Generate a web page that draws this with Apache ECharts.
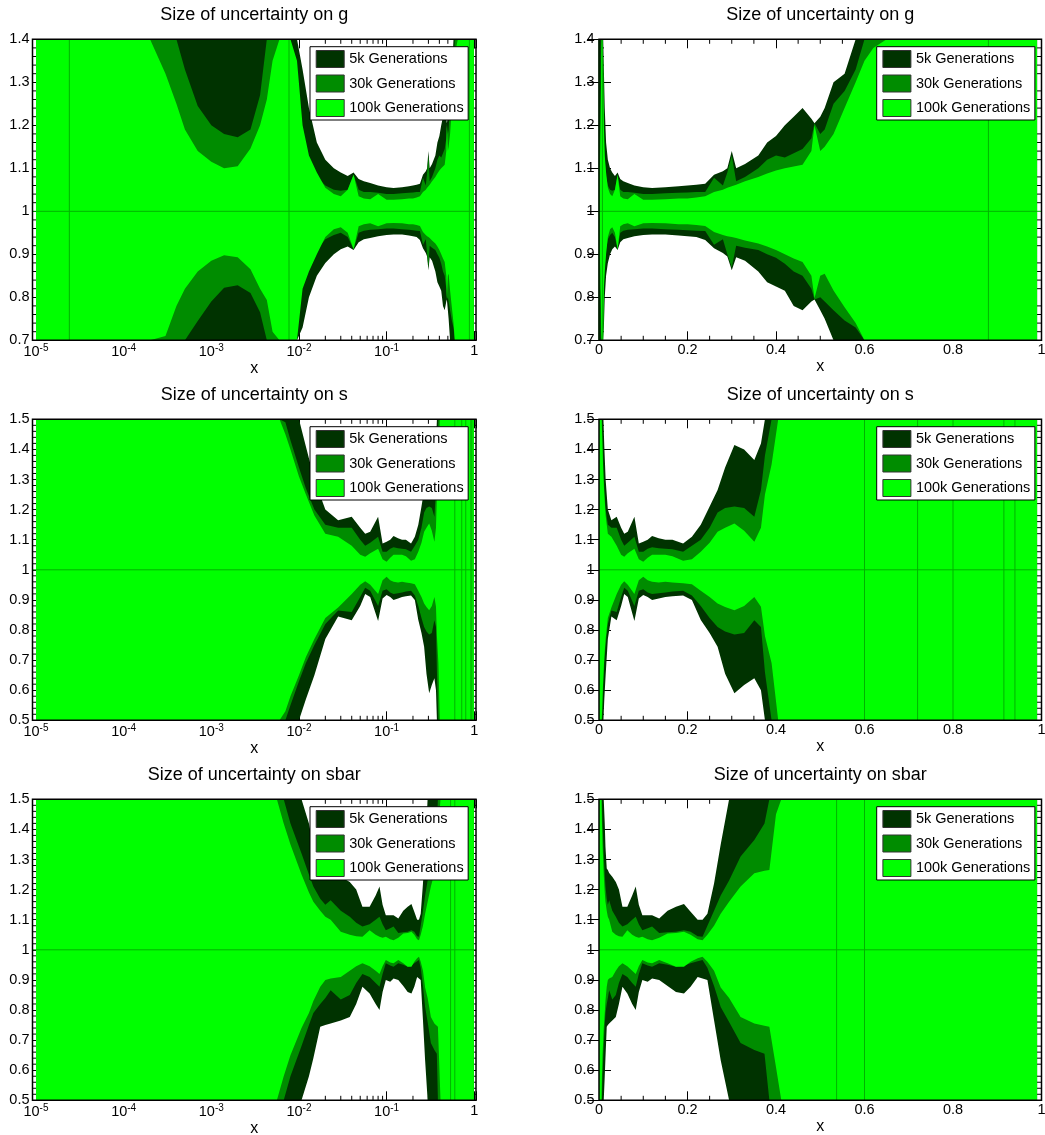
<!DOCTYPE html>
<html><head><meta charset="utf-8">
<script src="https://cdn.jsdelivr.net/npm/echarts@6/dist/echarts.min.js"></script>
<style>html,body{margin:0;padding:0;background:#fff}#c{width:1045px;height:1135px}</style>
</head><body><div id="c"></div>
<script>
// ---------------- data ----------------
const bandNames = ['5k Generations', '30k Generations', '100k Generations'];
const panelTitles = ['Size of uncertainty on g', 'Size of uncertainty on s', 'Size of uncertainty on sbar'];
const yMinByRow = [0.7, 0.5, 0.5];
const yMaxByRow = [1.4, 1.5, 1.5];
const ratioRef = 1;

// g
const gX      = [1e-5,3e-5,1e-4,2e-4,3e-4,4e-4,5e-4,7e-4,1e-3,1.4e-3,2e-3,2.8e-3,3.6e-3,4.3e-3,5e-3,6e-3,8e-3,0.0095,0.011,0.013,0.016,0.02,0.025,0.03,0.036,0.042,0.048,0.055,0.065,0.08,0.1,0.12,0.15,0.18,0.2,0.22,0.24,0.26,0.28,0.29,0.3,0.31,0.33,0.36,0.38,0.4,0.42,0.44,0.46,0.48,0.487,0.5,0.51,0.53,0.555,0.58,0.6,0.62,0.65,0.7,0.8,0.9,0.99];
const g5kHi   = [2.5,2.5,2.4,2.3,2.2,2.1,2.0,1.9,1.85,1.8,1.8,1.85,1.9,2.0,2.0,2.0,1.8,1.5,1.33,1.24,1.16,1.12,1.10,1.09,1.082,1.09,1.075,1.07,1.066,1.06,1.056,1.054,1.056,1.058,1.06,1.062,1.064,1.085,1.093,1.1,1.14,1.1,1.11,1.13,1.16,1.175,1.20,1.22,1.24,1.215,1.205,1.22,1.24,1.30,1.32,1.42,1.5,1.6,1.7,1.9,2.2,2.4,2.6];
const g5kLo   = [0.0,0.0,0.05,0.1,0.15,0.2,0.25,0.3,0.35,0.4,0.4,0.35,0.3,0.3,0.3,0.35,0.45,0.62,0.73,0.8,0.85,0.88,0.90,0.912,0.918,0.91,0.928,0.935,0.938,0.942,0.945,0.946,0.946,0.944,0.942,0.94,0.933,0.914,0.903,0.895,0.863,0.893,0.885,0.86,0.835,0.825,0.815,0.78,0.77,0.79,0.795,0.77,0.75,0.70,0.64,0.55,0.5,0.45,0.4,0.35,0.3,0.25,0.2];
const g30kHi  = [2.2,2.1,1.9,1.6,1.5,1.41,1.33,1.245,1.2,1.18,1.172,1.19,1.27,1.4,1.55,1.55,1.35,1.25,1.17,1.12,1.08,1.06,1.05,1.048,1.05,1.085,1.05,1.045,1.045,1.043,1.04,1.04,1.042,1.043,1.044,1.045,1.045,1.078,1.06,1.09,1.13,1.07,1.08,1.10,1.12,1.13,1.125,1.135,1.145,1.17,1.205,1.18,1.19,1.25,1.28,1.33,1.4,1.5,1.6,1.7,1.9,2.1,2.3];
const g30kLo  = [0.1,0.15,0.3,0.45,0.55,0.62,0.69,0.745,0.79,0.822,0.828,0.81,0.765,0.69,0.6,0.6,0.72,0.78,0.83,0.87,0.91,0.935,0.945,0.95,0.94,0.912,0.95,0.955,0.957,0.958,0.96,0.96,0.958,0.957,0.956,0.955,0.954,0.922,0.935,0.9,0.87,0.92,0.915,0.91,0.9,0.892,0.878,0.86,0.85,0.82,0.795,0.8,0.79,0.77,0.746,0.73,0.66,0.62,0.55,0.5,0.4,0.35,0.3];
const g100kHi = [2.2,2.0,1.7,1.44,1.32,1.25,1.19,1.14,1.115,1.10,1.105,1.146,1.20,1.26,1.35,1.6,1.5,1.35,1.2,1.13,1.09,1.055,1.04,1.035,1.05,1.085,1.035,1.03,1.028,1.04,1.027,1.027,1.028,1.03,1.03,1.032,1.035,1.045,1.05,1.055,1.058,1.062,1.07,1.08,1.088,1.095,1.1,1.104,1.108,1.14,1.2,1.14,1.15,1.18,1.24,1.3,1.35,1.38,1.42,1.55,1.8,2.0,2.2];
const g100kLo = [0.2,0.3,0.45,0.6,0.71,0.78,0.82,0.86,0.885,0.898,0.893,0.865,0.82,0.794,0.72,0.5,0.62,0.7,0.82,0.86,0.9,0.94,0.958,0.963,0.95,0.912,0.965,0.97,0.972,0.965,0.972,0.973,0.972,0.97,0.97,0.968,0.966,0.952,0.945,0.942,0.94,0.938,0.932,0.925,0.918,0.91,0.9,0.89,0.882,0.85,0.798,0.85,0.855,0.816,0.777,0.74,0.7,0.65,0.6,0.5,0.4,0.3,0.2];
const gSeamX  = [2.4e-5, 7.7e-3, 0.88];

// s
const sX      = [1e-5,1e-4,1e-3,3e-3,5e-3,6e-3,7e-3,8e-3,0.01,0.012,0.015,0.02,0.028,0.04,0.05,0.057,0.065,0.08,0.09,0.1,0.11,0.12,0.135,0.15,0.166,0.19,0.21,0.23,0.25,0.268,0.285,0.306,0.328,0.351,0.366,0.375,0.39,0.405,0.45,0.6,0.8,0.99];
const s5kHi   = [2.5,2.4,2.2,2.0,1.85,1.8,1.72,1.65,1.5,1.41,1.30,1.2,1.165,1.176,1.14,1.12,1.126,1.176,1.087,1.093,1.1,1.112,1.105,1.1,1.1,1.087,1.11,1.15,1.21,1.265,1.34,1.415,1.40,1.365,1.42,1.6,1.8,2.0,2.2,2.5,2.8,3.0];
const s5kLo   = [0.0,0.0,0.0,0.1,0.2,0.25,0.3,0.37,0.5,0.57,0.65,0.77,0.845,0.832,0.88,0.92,0.91,0.83,0.905,0.916,0.91,0.9,0.905,0.91,0.912,0.915,0.9,0.833,0.79,0.744,0.655,0.59,0.617,0.64,0.6,0.45,0.35,0.3,0.2,0.1,0.0,0.0];
const s30kHi  = [2.4,2.3,2.1,1.9,1.7,1.6,1.49,1.43,1.34,1.27,1.2,1.15,1.14,1.14,1.10,1.08,1.09,1.11,1.06,1.06,1.07,1.075,1.072,1.07,1.068,1.06,1.08,1.10,1.14,1.19,1.205,1.21,1.205,1.176,1.265,1.38,1.52,1.7,2.0,2.3,2.5,2.7];
const s30kLo  = [0.0,0.0,0.05,0.2,0.32,0.4,0.48,0.55,0.63,0.69,0.75,0.82,0.865,0.86,0.91,0.94,0.93,0.88,0.93,0.935,0.925,0.92,0.922,0.925,0.928,0.93,0.915,0.88,0.84,0.81,0.795,0.785,0.79,0.832,0.81,0.66,0.5,0.4,0.3,0.2,0.1,0.0];
const s100kHi = [2.3,2.2,2.0,1.8,1.6,1.51,1.45,1.4,1.31,1.25,1.18,1.12,1.11,1.08,1.05,1.043,1.055,1.07,1.035,1.027,1.04,1.05,1.05,1.05,1.045,1.03,1.035,1.06,1.09,1.126,1.14,1.154,1.13,1.093,1.14,1.25,1.35,1.5,1.8,2.1,2.3,2.5];
const s100kLo = [0.0,0.0,0.1,0.25,0.38,0.47,0.53,0.58,0.65,0.71,0.77,0.84,0.875,0.92,0.95,0.962,0.95,0.92,0.965,0.977,0.965,0.96,0.958,0.96,0.958,0.955,0.952,0.93,0.91,0.888,0.876,0.866,0.88,0.91,0.877,0.78,0.69,0.5,0.35,0.2,0.1,0.0];
const sSeamX  = [0.6, 0.72, 0.8, 0.915, 0.94];

// sbar
const sbX      = [1e-5,1e-4,1e-3,3e-3,4.5e-3,5.6e-3,6.7e-3,8e-3,0.0107,0.013,0.0146,0.0175,0.02,0.023,0.03,0.038,0.045,0.053,0.064,0.075,0.083,0.09,0.098,0.11,0.12,0.136,0.155,0.174,0.192,0.207,0.223,0.234,0.245,0.26,0.275,0.294,0.32,0.351,0.374,0.385,0.4,0.412,0.45,0.6,0.8,0.99];
const sb5kHi   = [2.5,2.4,2.2,2.0,1.9,1.8,1.7,1.62,1.5,1.42,1.343,1.27,1.265,1.255,1.243,1.225,1.2,1.143,1.143,1.18,1.21,1.15,1.115,1.115,1.115,1.104,1.13,1.143,1.152,1.126,1.1,1.1,1.12,1.22,1.35,1.5,1.7,1.9,2.0,2.1,2.2,2.3,2.4,2.6,2.8,3.0];
const sb5kLo   = [0.0,0.0,0.0,0.1,0.2,0.25,0.32,0.38,0.5,0.58,0.64,0.744,0.75,0.755,0.765,0.777,0.82,0.877,0.855,0.82,0.8,0.86,0.9,0.894,0.905,0.9,0.88,0.86,0.855,0.877,0.91,0.905,0.9,0.766,0.633,0.5,0.35,0.25,0.2,0.15,0.1,0.05,0.0,0.0,0.0,0.0];
const sb30kHi  = [2.4,2.3,2.1,1.9,1.75,1.6,1.5,1.42,1.32,1.25,1.21,1.17,1.15,1.165,1.13,1.11,1.09,1.077,1.085,1.1,1.11,1.085,1.065,1.072,1.077,1.056,1.058,1.06,1.065,1.06,1.045,1.043,1.08,1.13,1.18,1.23,1.31,1.365,1.42,1.6,1.8,1.9,2.1,2.3,2.5,2.7];
const sb30kLo  = [0.0,0.0,0.05,0.2,0.3,0.4,0.5,0.58,0.68,0.75,0.79,0.82,0.84,0.866,0.835,0.85,0.89,0.92,0.91,0.89,0.877,0.92,0.955,0.948,0.944,0.955,0.95,0.944,0.948,0.955,0.962,0.966,0.94,0.88,0.81,0.76,0.69,0.667,0.655,0.45,0.35,0.3,0.2,0.1,0.0,0.0];
const sb100kHi = [2.3,2.2,2.0,1.8,1.62,1.5,1.42,1.35,1.25,1.19,1.16,1.13,1.11,1.1,1.06,1.05,1.045,1.043,1.065,1.05,1.043,1.04,1.043,1.035,1.032,1.04,1.054,1.056,1.06,1.05,1.035,1.032,1.05,1.08,1.12,1.16,1.21,1.254,1.263,1.265,1.45,1.55,1.8,2.0,2.2,2.4];
const sb100kLo = [0.0,0.0,0.1,0.25,0.38,0.5,0.58,0.65,0.74,0.79,0.83,0.877,0.9,0.905,0.91,0.93,0.945,0.955,0.945,0.93,0.92,0.945,0.966,0.958,0.955,0.966,0.955,0.944,0.944,0.96,0.972,0.977,0.96,0.93,0.875,0.84,0.777,0.755,0.748,0.744,0.61,0.5,0.3,0.15,0.05,0.0];
const sbSeamX  = [0.537, 0.6];

const rows = [
  { x: gX,  lo: [g5kLo, g30kLo, g100kLo],    hi: [g5kHi, g30kHi, g100kHi],    seams: gSeamX },
  { x: sX,  lo: [s5kLo, s30kLo, s100kLo],    hi: [s5kHi, s30kHi, s100kHi],    seams: sSeamX },
  { x: sbX, lo: [sb5kLo, sb30kLo, sb100kLo], hi: [sb5kHi, sb30kHi, sb100kHi], seams: sbSeamX }
];

// ---------------- style / layout ----------------
const bandColors = ['#003300', '#008c00', '#00ff00'];
const seamColor = '#00b300';
const FONT = '"Liberation Sans", Arial, Helvetica, sans-serif';
const colLeft = [32.5, 599], colWidth = [443.5, 442.5];
const rowTop = [39.3, 419.3, 799.3], rowHeight = 301;
const logMin = Math.pow(10, -5.04), logMax = Math.pow(10, 0.02);

// minor tick positions (axis decoration, drawn under the bands like the original)
const logMinorTicks = [];
for (let e = -5; e < 0; e++) for (let m = 2; m <= 9; m++) logMinorTicks.push(m * Math.pow(10, e));
const linMinorTicks = [];
for (let i = 1; i < 20; i++) if (i % 4 !== 0) linMinorTicks.push(i / 20);
function yMinorTicks(r) {
  const out = [];
  for (let i = Math.round(yMinByRow[r] * 50); i <= Math.round(yMaxByRow[r] * 50); i++) if (i % 5 !== 0) out.push(i / 50);
  return out;
}

function fmtLog(v) {
  const e = Math.log10(v), k = Math.round(e);
  if (Math.abs(e - k) > 1e-6) return '';
  if (k === 0) return '{b|1}';
  return '{b|10}{s|' + k + '}';
}
function clamp(v, a, b) { return Math.max(a, Math.min(b, v)); }

function renderBand(params, api) {
  if (params.dataIndexInside !== 0) return null;
  const n = params.dataInsideLength;
  const cs = params.coordSys;
  const top = cs.y, bot = cs.y + cs.height;
  const up = [], dn = [];
  for (let i = 0; i < n; i++) {
    const x = api.value(0, i);
    const pLo = api.coord([x, api.value(1, i)]);
    const pHi = api.coord([x, api.value(2, i)]);
    up.push([pHi[0], clamp(pHi[1], top, bot)]);
    dn.push([pLo[0], clamp(pLo[1], top, bot)]);
  }
  return { type: 'polygon', silent: true, shape: { points: up.concat(dn.reverse()) },
           style: { fill: api.visual('color'), stroke: null } };
}
function renderSeam(params, api) {
  const cs = params.coordSys;
  const p = api.coord([api.value(0), api.value(1)]);
  return { type: 'line', silent: true, shape: { x1: p[0], y1: cs.y, x2: p[0], y2: cs.y + cs.height },
           style: { stroke: seamColor, lineWidth: 1 } };
}
function renderRef(params, api) {
  const cs = params.coordSys;
  const p = api.coord([api.value(0), api.value(1)]);
  return { type: 'line', silent: true, shape: { x1: cs.x, y1: p[1], x2: cs.x + cs.width, y2: p[1] },
           style: { stroke: seamColor, lineWidth: 1 } };
}
function renderXMinor(params, api) {
  const cs = params.coordSys;
  const p = api.coord([api.value(0), api.value(1)]);
  return { type: 'group', silent: true, children: [
    { type: 'line', shape: { x1: p[0], y1: cs.y + cs.height, x2: p[0], y2: cs.y + cs.height - 4.5 }, style: { stroke: '#000', lineWidth: 1 } },
    { type: 'line', shape: { x1: p[0], y1: cs.y, x2: p[0], y2: cs.y + 4.5 }, style: { stroke: '#000', lineWidth: 1 } }
  ] };
}
function renderYMinor(params, api) {
  const cs = params.coordSys;
  const p = api.coord([api.value(0), api.value(1)]);
  return { type: 'group', silent: true, children: [
    { type: 'line', shape: { x1: cs.x, y1: p[1], x2: cs.x + 5, y2: p[1] }, style: { stroke: '#000', lineWidth: 1 } },
    { type: 'line', shape: { x1: cs.x + cs.width, y1: p[1], x2: cs.x + cs.width - 5, y2: p[1] }, style: { stroke: '#000', lineWidth: 1 } }
  ] };
}

const labelStyle = { color: '#000', fontFamily: FONT, fontSize: 14.5 };
const option = { animation: false, backgroundColor: '#fff', title: [], grid: [], xAxis: [], yAxis: [], legend: [], series: [] };

for (let r = 0; r < 3; r++) {
  const row = rows[r];
  for (let c = 0; c < 2; c++) {
    const gi = r * 2 + c;
    const isLog = c === 0;
    option.grid.push({ left: colLeft[c], top: rowTop[r], width: colWidth[c], height: rowHeight,
      show: true, z: 5, backgroundColor: 'transparent', borderColor: '#000', borderWidth: 1.5,
      containLabel: false, outerBoundsMode: 'none' });
    option.title.push({ text: panelTitles[r], left: colLeft[c] + colWidth[c] / 2, top: rowTop[r] - 33.5,
      textAlign: 'center', padding: 0,
      textStyle: { fontFamily: FONT, fontSize: 18, fontWeight: 'normal', color: '#000' } });
    const xCommon = isLog
      ? { type: 'log', logBase: 10, min: logMin, max: logMax }
      : { type: 'value', min: 0, max: 1, interval: 0.2 };
    option.xAxis.push(Object.assign({}, xCommon, {
      gridIndex: gi, position: 'bottom', z: 0,
      axisLine: { show: false }, splitLine: { show: false }, minorTick: { show: false }, minorSplitLine: { show: false },
      axisTick: { show: true, inside: true, length: 9, lineStyle: { color: '#000' } },
      axisLabel: isLog
        ? Object.assign({ margin: 3, formatter: fmtLog, rich: { b: Object.assign({}, labelStyle), s: { color: '#000', fontFamily: FONT, fontSize: 10, padding: [0, 0, 7, 0] } } }, labelStyle)
        : Object.assign({ margin: 2.5 }, labelStyle),
      name: 'x', nameLocation: 'middle', nameGap: 15,
      nameTextStyle: { color: '#000', fontFamily: FONT, fontSize: 16 }
    }));
    option.xAxis.push(Object.assign({}, xCommon, {
      gridIndex: gi, position: 'top', z: 0,
      axisLine: { show: false }, splitLine: { show: false }, minorTick: { show: false }, minorSplitLine: { show: false },
      axisTick: { show: true, inside: true, length: 9, lineStyle: { color: '#000' } },
      axisLabel: { show: false }
    }));
    const yCommon = { type: 'value', min: yMinByRow[r], max: yMaxByRow[r], interval: 0.1,
      splitLine: { show: false }, minorSplitLine: { show: false }, axisLine: { show: false },
      axisTick: { show: true, inside: true, length: 12, lineStyle: { color: '#000' } },
      minorTick: { show: false } };
    option.yAxis.push(Object.assign({}, yCommon, { gridIndex: gi, position: 'left', z: 0,
      axisLabel: Object.assign({ margin: c === 0 ? 3 : 4.5 }, labelStyle) }));
    option.yAxis.push(Object.assign({}, yCommon, { gridIndex: gi, position: 'right', z: 0,
      axisLabel: { show: false } }));

    option.legend.push({ left: isLog ? 310 : 876.7, top: rowTop[r] + 7.4, orient: 'vertical',
      data: bandNames.slice(), icon: 'rect', itemWidth: 28, itemHeight: 17, itemGap: 6.5,
      padding: [3.3, 4.5, 3, 5.7], backgroundColor: '#fff', borderColor: '#000', borderWidth: 1,
      selectedMode: false, z: 6,
      textStyle: { color: '#000', fontFamily: FONT, fontSize: 14.5 },
      itemStyle: { borderColor: '#333', borderWidth: 1 } });

    const xi = 2 * gi, yi = 2 * gi;
    option.series.push({ type: 'custom', name: 'xminor', xAxisIndex: xi, yAxisIndex: yi, z: 1, silent: true,
      data: (isLog ? logMinorTicks : linMinorTicks).map(v => [v, ratioRef]), renderItem: renderXMinor, encode: { x: 0, y: 1 } });
    option.series.push({ type: 'custom', name: 'yminor', xAxisIndex: xi, yAxisIndex: yi, z: 1, silent: true,
      data: yMinorTicks(r).map(v => [row.x[0], v]), renderItem: renderYMinor, encode: { x: 0, y: 1 } });
    for (let b = 0; b < 3; b++) {
      option.series.push({ type: 'custom', name: bandNames[b], xAxisIndex: xi, yAxisIndex: yi, z: 2,
        silent: true, clip: true, itemStyle: { color: bandColors[b] },
        data: row.x.map((xv, i) => [xv, row.lo[b][i], row.hi[b][i]]),
        encode: { x: 0, y: [1, 2] }, renderItem: renderBand });
    }
    option.series.push({ type: 'custom', name: 'seam', xAxisIndex: xi, yAxisIndex: yi, z: 3, silent: true,
      data: row.seams.map(v => [v, ratioRef]), encode: { x: 0, y: 1 }, renderItem: renderSeam });
    option.series.push({ type: 'custom', name: 'ref', xAxisIndex: xi, yAxisIndex: yi, z: 3, silent: true,
      data: [[row.x[0], ratioRef]], encode: { x: 0, y: 1 }, renderItem: renderRef });
  }
}

const chart = echarts.init(document.getElementById('c'), null, { renderer: 'canvas' });
chart.setOption(option);
</script></body></html>
